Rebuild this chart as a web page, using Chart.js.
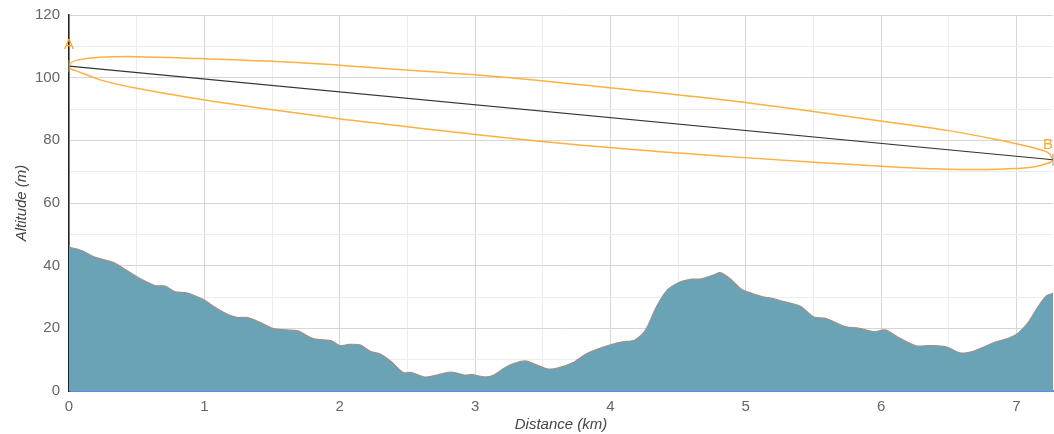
<!DOCTYPE html>
<html>
<head>
<meta charset="utf-8">
<script src="https://cdn.jsdelivr.net/npm/chart.js@4/dist/chart.umd.min.js"></script>
<style>
  html, body { margin: 0; padding: 0; background: #fff; overflow: hidden; }
  #wrap { width: 1054px; height: 434px; }
</style>
</head>
<body>
<div id="wrap"><canvas id="profileChart"></canvas></div>
<script>
// terrain profile (km, m)
const distKm = [0.00, 0.06, 0.11, 0.18, 0.25, 0.33, 0.43, 0.52, 0.64, 0.71, 0.78, 0.86, 0.93, 1.00,
  1.09, 1.18, 1.24, 1.32, 1.41, 1.51, 1.61, 1.69, 1.80, 1.88, 1.94, 2.00, 2.07, 2.15, 2.23, 2.30,
  2.38, 2.47, 2.53, 2.62, 2.69, 2.79, 2.85, 2.92, 2.98, 3.07, 3.13, 3.22, 3.29, 3.37, 3.44, 3.53,
  3.60, 3.72, 3.82, 3.92, 4.02, 4.09, 4.18, 4.26, 4.34, 4.42, 4.51, 4.60, 4.67, 4.76, 4.81, 4.88,
  4.97, 5.03, 5.12, 5.19, 5.26, 5.35, 5.41, 5.50, 5.59, 5.66, 5.74, 5.84, 5.95, 6.03, 6.14, 6.26,
  6.36, 6.48, 6.58, 6.66, 6.75, 6.85, 6.94, 7.01, 7.09, 7.16, 7.22, 7.27];
const elevM = [45.9, 45.3, 44.5, 42.9, 42.0, 41.0, 38.4, 36.0, 33.6, 33.5, 31.7, 31.4, 30.4, 29.0,
  26.4, 24.3, 23.5, 23.4, 21.9, 19.9, 19.5, 19.2, 16.8, 16.3, 16.0, 14.5, 14.9, 14.7, 12.6, 11.8,
  9.4, 5.9, 5.9, 4.5, 4.8, 5.9, 5.9, 5.1, 5.2, 4.5, 4.9, 7.4, 8.8, 9.6, 8.6, 7.1,
  7.2, 9.0, 11.8, 13.6, 15.0, 15.7, 16.3, 19.5, 26.9, 32.2, 34.7, 35.7, 35.8, 37.0, 37.8, 36.0,
  32.4, 31.4, 30.1, 29.6, 28.8, 27.8, 26.9, 23.7, 23.2, 21.9, 20.5, 20.0, 18.9, 19.5, 16.8, 14.4,
  14.5, 14.1, 12.2, 12.4, 13.9, 15.7, 16.8, 18.4, 22.1, 26.9, 30.3, 31.2];

// line of sight A -> B
const losKm = [0, 7.27];
const losM = [103.7, 73.8];
const losNames = ['A', 'B'];

// Fresnel zone outline, upper and lower edges
const zoneKm = [0, 0.01, 0.06, 0.23, 0.50, 0.97, 1.46, 1.93, 2.07, 3.00, 3.99, 4.88, 6.13, 6.50, 6.87, 7.11, 7.22, 7.25, 7.27];
const zoneUpper = [103.7, 104.6, 105.6, 106.5, 106.7, 106.1, 105.3, 104.2, 103.7, 100.9, 96.8, 92.7, 85.4, 83.1, 80.1, 77.8, 76.4, 75.4, 73.8];
const zoneLower = [103.7, 102.9, 102.1, 99.3, 96.6, 93.1, 90.0, 87.3, 86.5, 81.9, 77.7, 74.8, 71.4, 70.8, 70.8, 71.4, 72.5, 73.0, 73.8];

const xMax = 7.27;
const xGridKm = [0, 0.5, 1, 1.5, 2, 2.5, 3, 3.5, 4, 4.5, 5, 5.5, 6, 6.5, 7];
const yTicks = [0, 20, 40, 60, 80, 100, 120];

const pts = (xs, ys) => xs.map((x, i) => ({ x: x, y: ys[i] }));

Chart.defaults.font.family = '"Liberation Sans", Arial, sans-serif';
Chart.defaults.font.size = 15;
Chart.defaults.color = '#666';

const endLabels = {
  id: 'endLabels',
  afterDatasetsDraw(chart) {
    const meta = chart.getDatasetMeta(0);
    const ctx = chart.ctx;
    ctx.save();
    ctx.fillStyle = '#ffa726';
    ctx.font = '15px "Liberation Sans", Arial, sans-serif';
    ctx.textBaseline = 'middle';
    meta.data.forEach((p, i) => {
      if (i === 0) {
        ctx.textAlign = 'center';
        ctx.fillText(losNames[i], p.x, p.y - 21);
      } else {
        ctx.textAlign = 'right';
        ctx.fillText(losNames[i], p.x, p.y - 15);
      }
    });
    ctx.restore();
  }
};

new Chart(document.getElementById('profileChart'), {
  type: 'scatter',
  data: {
    datasets: [
      {
        label: 'Line of sight',
        data: pts(losKm, losM),
        showLine: true,
        borderColor: '#333',
        borderWidth: 1.2,
        pointStyle: 'line',
        rotation: 90,
        pointRadius: 6,
        pointBorderColor: '#999',
        pointBorderWidth: 1,
        clip: false
      },
      {
        label: 'Fresnel upper',
        data: pts(zoneKm, zoneUpper),
        showLine: true,
        borderColor: '#ffb040',
        borderWidth: 1.5,
        pointRadius: 0,
        tension: 0.4
      },
      {
        label: 'Fresnel lower',
        data: pts(zoneKm, zoneLower),
        showLine: true,
        borderColor: '#ffb040',
        borderWidth: 1.5,
        pointRadius: 0,
        tension: 0.4
      },
      {
        label: 'Terrain',
        data: pts(distKm, elevM),
        showLine: true,
        fill: 'origin',
        backgroundColor: '#6aa3b6',
        borderColor: '#a0908a',
        borderWidth: 1.2,
        pointRadius: 0,
        tension: 0.3
      }
    ]
  },
  options: {
    animation: false,
    responsive: true,
    maintainAspectRatio: false,
    layout: { autoPadding: false, padding: { left: 9, top: 15, right: 1, bottom: 0 } },
    plugins: {
      legend: { display: false },
      tooltip: { enabled: false }
    },
    scales: {
      x: {
        type: 'linear',
        min: 0,
        max: xMax,
        afterBuildTicks: (scale) => {
          scale.ticks = xGridKm.map(v => ({ value: v }));
        },
        afterFit: (scale) => {
          scale.paddingLeft = 0;
          scale.paddingRight = 0;
          scale.height = 43;
        },
        border: { color: '#5b8ee6', width: 2 },
        grid: {
          drawTicks: false,
          color: (c) => Number.isInteger(c.tick.value) ? '#d6d6d6' : '#ececec'
        },
        ticks: {
          padding: 7,
          autoSkip: false,
          maxRotation: 0,
          callback: (v) => Number.isInteger(v) ? v : ''
        },
        title: {
          display: true,
          text: 'Distance (km)',
          color: '#444',
          font: { style: 'italic', size: 15 },
          padding: { top: 0, bottom: 0 }
        }
      },
      y: {
        min: 0,
        max: 120,
        afterFit: (scale) => {
          scale.width = 60;
          scale.paddingTop = 0;
          scale.paddingBottom = 0;
        },
        border: { color: '#222', width: 1.5 },
        grid: {
          drawTicks: false,
          color: (c) => yTicks.includes(c.tick.value) ? '#d6d6d6' : '#ececec'
        },
        ticks: {
          stepSize: 10,
          padding: 9,
          callback: (v) => yTicks.includes(v) ? v : ''
        },
        title: {
          display: true,
          text: 'Altitude (m)',
          color: '#444',
          font: { style: 'italic', size: 15 }
        }
      }
    }
  },
  plugins: [endLabels]
});
</script>
</body>
</html>
